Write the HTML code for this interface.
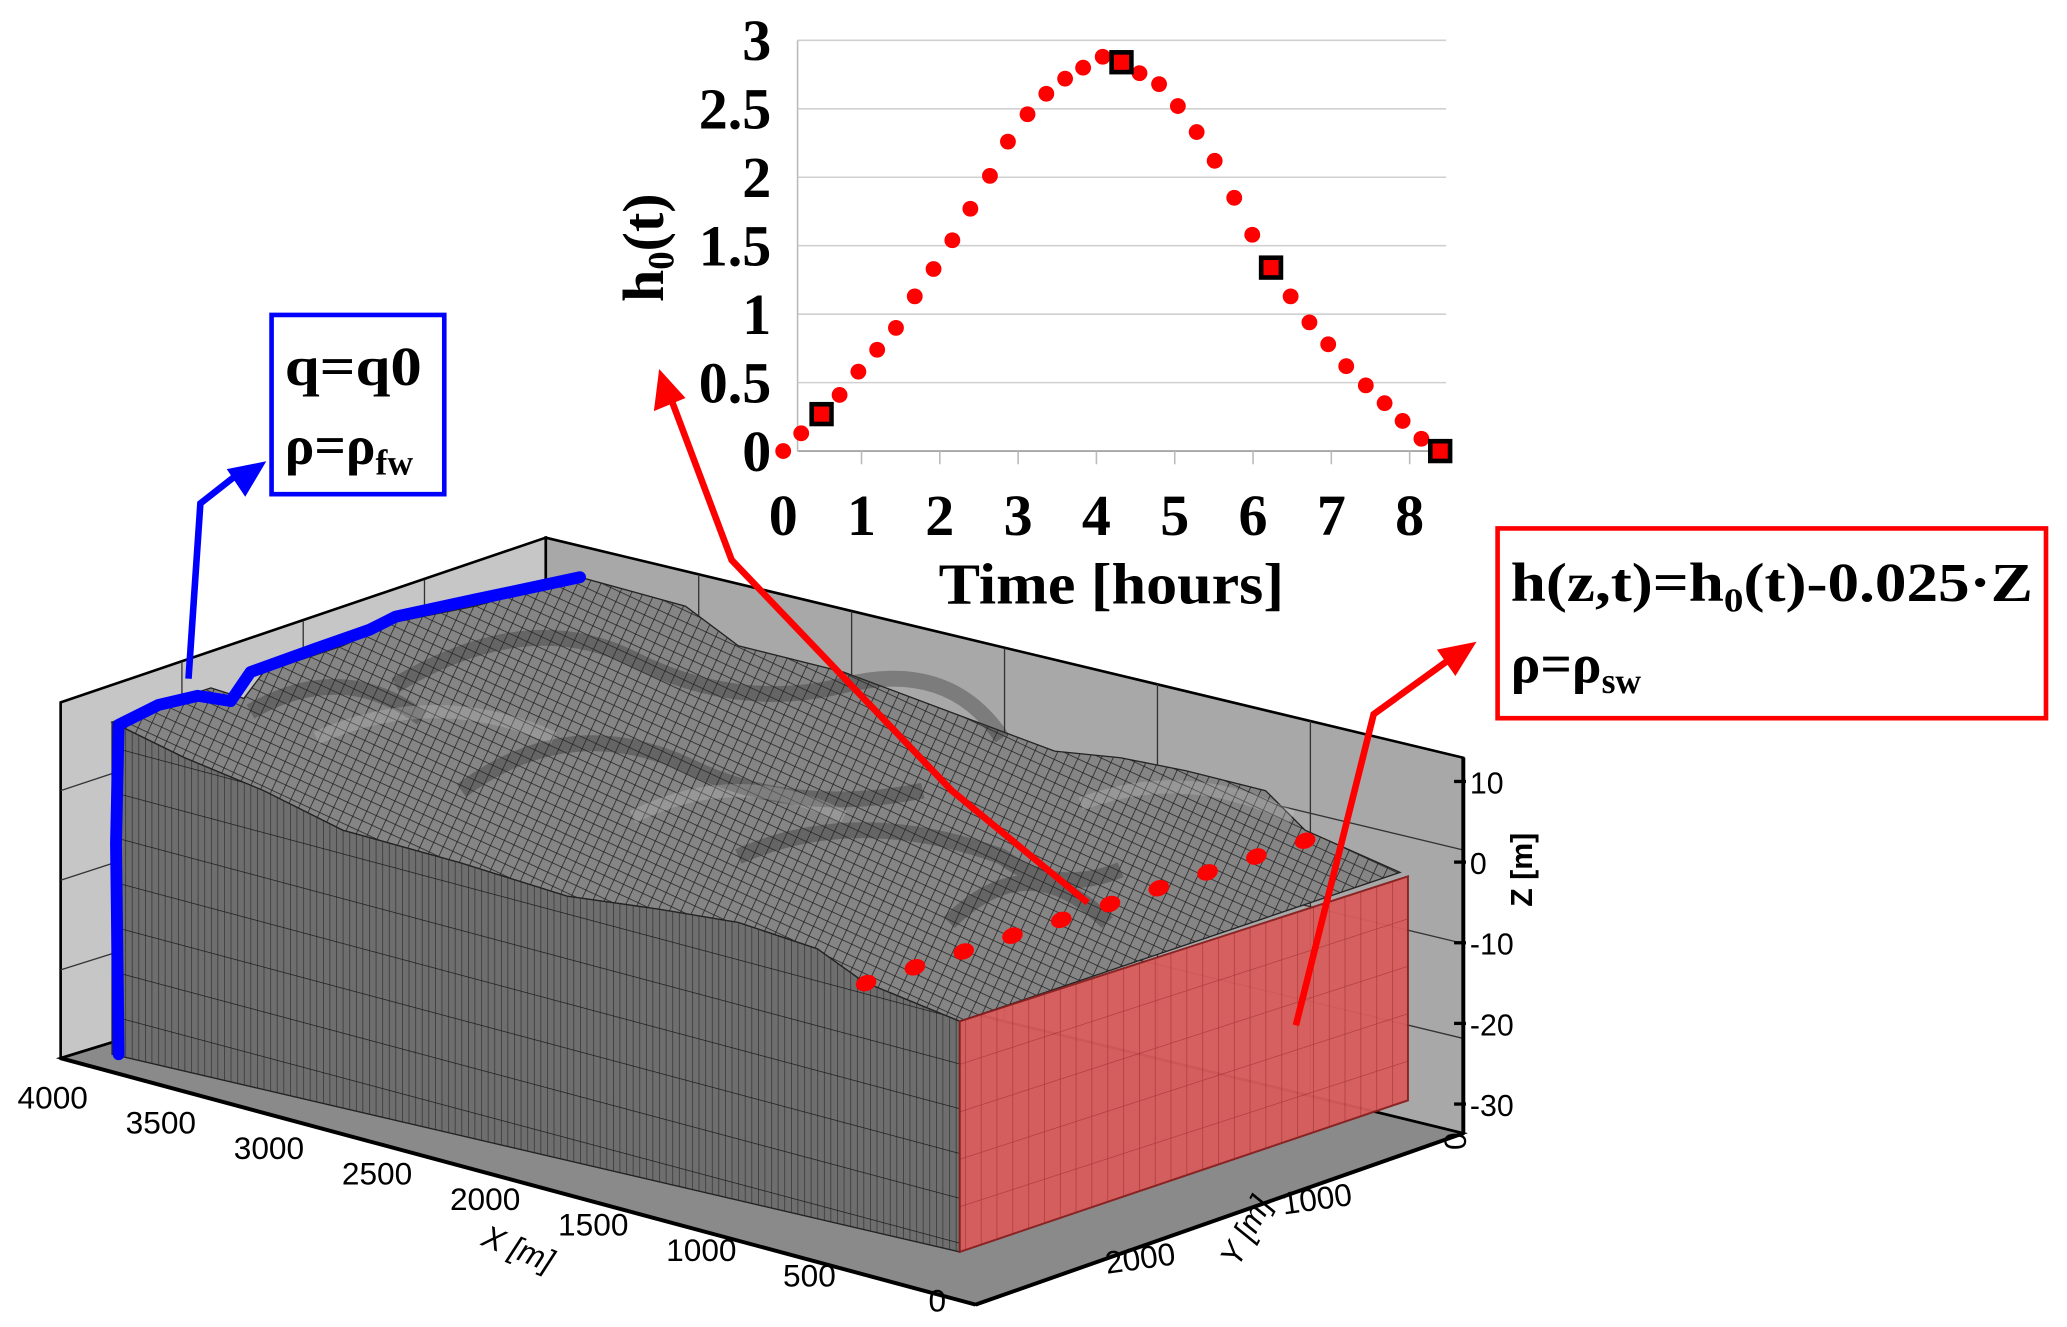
<!DOCTYPE html>
<html><head><meta charset="utf-8">
<style>
html,body{margin:0;padding:0;background:#fff;overflow:hidden;}
#wrap{width:1568px;height:1007px;transform:scale(1.3183,1.3178);transform-origin:0 0;position:relative;}
svg text{font-family:"Liberation Serif",serif;}
svg text.sans, svg .sans text{font-family:"Liberation Sans",sans-serif;}
</style></head>
<body>
<div id="wrap">
<svg id="svg" width="1568" height="1007" viewBox="0 0 1568 1007">
<defs>
<pattern id="mesh" width="8" height="8" patternUnits="userSpaceOnUse" patternTransform="rotate(25)">
<rect width="8" height="8" fill="#858585"/>
<path d="M0 0H8M0 0V8" stroke="#1e1e1e" stroke-width="1.1"/>
</pattern>
<pattern id="front" width="5" height="34" patternUnits="userSpaceOnUse" patternTransform="skewY(15)">
<rect width="5" height="34" fill="#6e6e6e"/>
<path d="M0 0V34" stroke="#2e2e2e" stroke-width="1"/>
<path d="M0 0H5" stroke="#111" stroke-width="1"/>
</pattern>
<pattern id="redgrid" width="12" height="36" patternUnits="userSpaceOnUse" patternTransform="skewY(-18)">
<rect width="12" height="36" fill="#d95c5c"/>
<path d="M0 0V36M0 0H12" stroke="#a83232" stroke-width="1"/>
</pattern>
</defs>

<g>
<polygon points="46,533 414,408 414,690 46,803" fill="#c6c6c6" stroke="#000" stroke-width="2"/>
<polygon points="414,408 1110,575 1110,860 414,690" fill="#a8a8a8" stroke="#000" stroke-width="2"/>
<polygon points="46,803 414,690 1110,860 740,990" fill="#8a8a8a" stroke="#000" stroke-width="2"/>
<g stroke="#333" stroke-width="1" fill="none">
<line x1="138" y1="502" x2="138" y2="775"/><line x1="230" y1="471" x2="230" y2="746"/><line x1="322" y1="440" x2="322" y2="718"/>
<line x1="530" y1="436" x2="530" y2="718"/><line x1="646" y1="464" x2="646" y2="746"/><line x1="762" y1="492" x2="762" y2="775"/><line x1="878" y1="519" x2="878" y2="803"/><line x1="994" y1="547" x2="994" y2="832"/>
<line x1="46" y1="600" x2="414" y2="478"/><line x1="46" y1="668" x2="414" y2="548"/><line x1="46" y1="736" x2="414" y2="620"/>
<line x1="414" y1="478" x2="1110" y2="645"/><line x1="414" y1="548" x2="1110" y2="716"/><line x1="414" y1="620" x2="1110" y2="788"/>
</g>
<path d="M85,548 L120,535 L160,522 L185,530 L200,510 L260,490 L300,472 L360,460 L440,438 L520,460 L560,490 L640,510 L720,540 L800,570 L850,575 L900,585 L960,600 L990,630 L1062,662 L728,775 L655,745 L620,720 L560,700 L500,690 L430,680 L350,655 L260,630 L200,600 L140,575 Z" fill="url(#mesh)" stroke="#222" stroke-width="1"/>
<path d="M190,540 Q260,500 320,545 M300,520 Q400,460 480,500 Q560,540 640,520 Q720,500 760,560 M350,600 Q430,540 520,580 Q600,620 700,600 M560,650 Q650,610 760,650 Q800,680 850,660 M720,700 Q780,640 840,700" stroke="#2a2a2a" stroke-width="12" fill="none" opacity="0.35"/>
<path d="M240,560 Q330,520 420,560 M480,620 Q560,580 640,620 M820,610 Q900,580 980,620" stroke="#d0d0d0" stroke-width="10" fill="none" opacity="0.25"/>
<path d="M85,548 L140,575 L200,600 L260,630 L350,655 L430,680 L500,690 L560,700 L620,720 L655,745 L728,775 L728,950 L85,800 Z" fill="url(#front)" stroke="#222" stroke-width="1"/>
<polygon points="728,775 1068,665 1068,835 728,950" fill="url(#redgrid)" stroke="#8a1e1e" stroke-width="1.5" opacity="0.95"/>
<line x1="46" y1="803" x2="740" y2="990" stroke="#000" stroke-width="3"/>
<line x1="740" y1="990" x2="1110" y2="860" stroke="#000" stroke-width="3"/>
<line x1="1110" y1="575" x2="1110" y2="860" stroke="#000" stroke-width="3"/>
</g>

<g id="zaxis" class="sans" font-size="23"></g>
<text class="sans" font-size="23" font-weight="bold" transform="translate(1162,660) rotate(-90)" text-anchor="middle">Z [m]</text>
<g id="xaxis" class="sans" font-size="24"></g>
<text class="sans" font-size="24" font-style="italic" transform="translate(390,955) rotate(22)" text-anchor="middle">X [m]</text>
<g id="yaxis" class="sans" font-size="24"></g>
<text class="sans" font-size="24" font-style="italic" transform="translate(952,938) rotate(-62)" text-anchor="middle">Y [m]</text>

<path d="M90,800 L88,640 L90,550 L120,535 L150,528 L175,532 L190,510 L240,492 L280,478 L300,468 L360,455 L440,438" stroke="#0000ff" stroke-width="9" fill="none" stroke-linecap="round" stroke-linejoin="round"/>
<path d="M143,515 L152,382 L180,360" stroke="#0000ff" stroke-width="5" fill="none"/>
<polygon points="202,350 172,356 186,377" fill="#0000ff"/>
<rect x="206" y="239" width="131" height="136" fill="#fff" stroke="#0000ff" stroke-width="3.5"/>
<text x="216" y="292" font-size="42" font-weight="bold" textLength="104" lengthAdjust="spacingAndGlyphs">q=q0</text>
<text x="216" y="352" font-size="42" font-weight="bold">ρ=ρ<tspan font-size="27" dy="8">fw</tspan></text>

<g id="edgeDots" fill="#ff0000"></g>

<path d="M825,685 L722,600 L555,425 L508,300" stroke="#ff0000" stroke-width="5" fill="none"/>
<polygon points="500,280 496,312 520,302" fill="#ff0000"/>
<path d="M983,778 L1042,542 L1100,500" stroke="#ff0000" stroke-width="5" fill="none"/>
<polygon points="1120,487 1090,493 1104,513" fill="#ff0000"/>
<rect x="1136" y="401" width="416" height="144" fill="#fff" stroke="#ff0000" stroke-width="3.5"/>
<text x="1146" y="456" font-size="42" font-weight="bold" textLength="396" lengthAdjust="spacingAndGlyphs">h(z,t)=h<tspan font-size="26" dy="8">0</tspan><tspan dy="-8">(t)-0.025·Z</tspan></text>
<text x="1146" y="518" font-size="42" font-weight="bold">ρ=ρ<tspan font-size="27" dy="8">sw</tspan></text>

<g id="chart"></g>
<text x="843" y="458" font-size="44" font-weight="bold" text-anchor="middle" textLength="262" lengthAdjust="spacingAndGlyphs">Time [hours]</text>
<text transform="translate(503,188) rotate(-90)" font-size="44" font-weight="bold" text-anchor="middle">h<tspan font-size="28" dy="8">0</tspan><tspan dy="-8">(t)</tspan></text>
</svg>
</div>
<script>
const times=[0,0.23,0.49,0.72,0.96,1.20,1.44,1.68,1.92,2.16,2.39,2.64,2.87,3.12,3.36,3.60,3.83,4.08,4.32,4.55,4.80,5.04,5.28,5.51,5.76,5.99,6.23,6.48,6.72,6.96,7.19,7.44,7.68,7.91,8.15,8.39];
const heads=[0,0.13,0.27,0.41,0.58,0.74,0.90,1.13,1.33,1.54,1.77,2.01,2.26,2.46,2.61,2.72,2.80,2.88,2.84,2.76,2.68,2.52,2.33,2.12,1.85,1.58,1.34,1.13,0.94,0.78,0.62,0.48,0.35,0.22,0.09,0];
const squareIdx=[2,18,26,35];
const yTicks=["0","0.5","1","1.5","2","2.5","3"];
const xTicks=["0","1","2","3","4","5","6","7","8"];
const zTicks=["10","0","-10","-20","-30"];
const xTicks3d=["4000","3500","3000","2500","2000","1500","1000","500","0"];
const yTicks3d=["0","1000","2000"];

const NS="http://www.w3.org/2000/svg";
function mk(tag,attrs,parent){const e=document.createElementNS(NS,tag);for(const k in attrs)e.setAttribute(k,attrs[k]);parent.appendChild(e);return e;}
const xs=t=>594.1+59.4*t;
const ys=h=>342.3-103.9*h;
const chart=document.getElementById('chart');
yTicks.forEach(v=>{
  const y=ys(parseFloat(v));
  const l=mk('line',{x1:605,x2:1097,y1:y,y2:y,stroke:v==="0"?'#999':'#d0d0d0','stroke-width':1.2},chart);
  
  
  const t=mk('text',{x:585,y:y+15,'font-size':44,'font-weight':'bold','text-anchor':'end'},chart);
  t.textContent=v;
  
  
});
const ax=mk('line',{x1:605,x2:605,y1:ys(3),y2:ys(0),stroke:'#bbb','stroke-width':1.2},chart);


xTicks.forEach(v=>{
  const x=xs(parseFloat(v));
  if(v!=="0"){const tk=mk('line',{x1:x,x2:x,y1:ys(0),y2:ys(0)+10,stroke:'#bbb','stroke-width':1.2},chart);
  
  }
  const t=mk('text',{x:x,y:406,'font-size':44,'font-weight':'bold','text-anchor':'middle'},chart);
  t.textContent=v;
  
  
});
times.forEach((t,i)=>{
  const c=mk('circle',{cx:xs(t),cy:ys(heads[i]),r:6,fill:'#ff0000'},chart);
  
  
});
squareIdx.forEach(i=>{
  const s=mk('rect',{x:xs(times[i])-7.5,y:ys(heads[i])-7.5,width:15,height:15,fill:'#ff0000',stroke:'#000','stroke-width':3.5},chart);
  
  
});
const zg=document.getElementById('zaxis');
zTicks.forEach((v,i)=>{
  const y=593+i*61.2;
  const l=mk('line',{x1:1103,x2:1112,y1:y,y2:y,stroke:'#000','stroke-width':2.5},zg);
  
  
  const t=mk('text',{x:1115,y:y+9},zg);
  t.textContent=v;
  
  
});
const xg=document.getElementById('xaxis');
xTicks3d.forEach((v,i)=>{
  const t=mk('text',{x:40+i*82+(i==8?15:0),y:841+i*19.3,'text-anchor':'middle'},xg);
  t.textContent=v;
  
  
});
const yg=document.getElementById('yaxis');
const ypos=[[1112,866,-90],[1000,918,-8],[866,963,-8]];
yTicks3d.forEach((v,i)=>{
  const t=mk('text',{transform:`translate(${ypos[i][0]},${ypos[i][1]}) rotate(${ypos[i][2]})`,'text-anchor':'middle'},yg);
  t.textContent=v;
  
  
});
const dg=document.getElementById('edgeDots');
for(let i=0;i<10;i++){
  const x=657+i*37,y=746-i*12;
  const e=mk('ellipse',{cx:x,cy:y,rx:8,ry:6,transform:`rotate(-20 ${x} ${y})`},dg);
  
  
}
</script>
</body></html>
